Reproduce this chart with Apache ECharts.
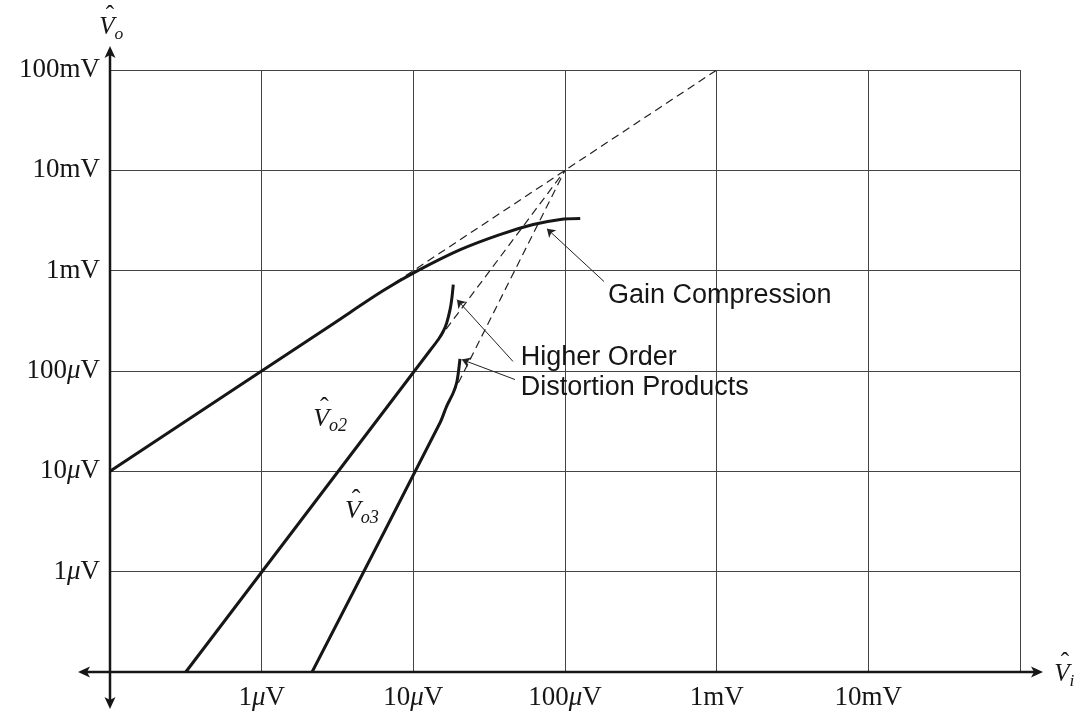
<!DOCTYPE html>
<html>
<head>
<meta charset="utf-8">
<script src="https://cdn.jsdelivr.net/npm/echarts@6/dist/echarts.min.js"></script>
<style>
  html, body { margin: 0; padding: 0; background: #fff; }
  #main { width: 1078px; height: 711px; }
</style>
</head>
<body>
<div id="main"></div>
<script>
// axis range (volts) and tick labels, one per decade 1e-7 .. 1e-1
const axisMin = 1e-7;
const axisMax = 1e-1;
const xTickLabels = ["", "1{mu|μ}V", "10{mu|μ}V", "100{mu|μ}V", "1mV", "10mV", ""];
const yTickLabels = ["", "1{mu|μ}V", "10{mu|μ}V", "100{mu|μ}V", "1mV", "10mV", "100mV"];

// fundamental output [Vi, Vo]
const fundamental = [
  [1e-7, 1e-5], [3e-6, 3e-4], [6.3e-6, 6.3e-4],
  [1.07e-5, 1.0e-3], [2.04e-5, 1.62e-3], [3.72e-5, 2.29e-3],
  [6.17e-5, 2.88e-3], [9.33e-5, 3.24e-3], [1.26e-4, 3.31e-3]
];
// second order product
const vo2 = [
  [3.16e-7, 1e-7], [1.288e-5, 1.6e-4], [1.462e-5, 2.06e-4],
  [1.576e-5, 2.49e-4], [1.66e-5, 3.02e-4], [1.746e-5, 4.09e-4],
  [1.79e-5, 5.14e-4], [1.834e-5, 7.26e-4]
];
// third order product
const vo3 = [
  [2.15e-6, 1e-7], [1.5e-5, 3.05e-5], [1.66e-5, 4.47e-5],
  [1.834e-5, 6.07e-5], [1.93e-5, 7.63e-5], [1.98e-5, 9.6e-5],
  [2.03e-5, 1.32e-4]
];
// dashed extrapolations
const fundExtrap = [[7.57e-6, 7.57e-4], [1e-3, 1e-1]];
const vo2Extrap = [[1.462e-5, 2.06e-4], [1e-4, 1e-2]];
const vo3Extrap = [[1.66e-5, 4.47e-5], [1e-4, 1e-2]];

// annotation arrows [tail, tip] and text anchors
const annoArrows = [
  [[1.81e-4, 7.78e-4], [7.6e-5, 2.62e-3]],
  [[4.54e-5, 1.245e-4], [1.94e-5, 5.14e-4]],
  [[4.68e-5, 8.22e-5], [2.09e-5, 1.30e-4]]
];
const annoTexts = ["Gain Compression", "Higher Order", "Distortion Products"];
const annoPos = [[1.92e-4, 5.6e-4], [5.1e-5, 1.37e-4], [5.1e-5, 6.85e-5]];

// curve name labels [Vi, Vo] and subscripts
const curveLabelSubs = ["o2", "o3"];
const curveLabelPos = [[2.47e-6, 3.3e-5], [4.0e-6, 4.0e-6]];

const serif = '"Liberation Serif", "DejaVu Serif", serif';
const sans = '"Liberation Sans", Arial, sans-serif';
const ink = "#161616";

const chart = echarts.init(document.getElementById("main"));

function tickText(labels) {
  return function (value) {
    const i = Math.round(Math.log10(value)) + 7;
    return labels[i] || "";
  };
}

const labelStyle = {
  color: ink,
  fontFamily: serif,
  fontSize: 27,
  rich: {
    mu: { fontFamily: serif, fontSize: 27, fontStyle: "italic", color: ink }
  }
};

function solid(name, data) {
  return {
    name: name,
    type: "line",
    data: data,
    symbol: "none",
    smooth: 0.3,
    lineStyle: { color: ink, width: 3 },
    z: 4
  };
}

function dashed(data) {
  return {
    type: "line",
    data: data,
    symbol: "none",
    lineStyle: { color: "#222", width: 1.2, type: [8, 5] },
    z: 3
  };
}

chart.setOption({
  animation: false,
  backgroundColor: "#fff",
  grid: { left: 110, right: 58, top: 70, bottom: 38 },
  xAxis: {
    type: "log",
    logBase: 10,
    min: axisMin,
    max: axisMax,
    axisLine: { show: false },
    axisTick: { show: false },
    splitLine: { show: true, lineStyle: { color: "#444", width: 1 } },
    axisLabel: Object.assign({ margin: 12, formatter: tickText(xTickLabels) }, labelStyle)
  },
  yAxis: {
    type: "log",
    logBase: 10,
    min: axisMin,
    max: axisMax,
    axisLine: { show: false },
    axisTick: { show: false },
    splitLine: { show: true, lineStyle: { color: "#444", width: 1 } },
    axisLabel: Object.assign({ margin: 10, formatter: tickText(yTickLabels) }, labelStyle)
  },
  series: [
    solid("Vo", fundamental),
    solid("Vo2", vo2),
    solid("Vo3", vo3),
    dashed(fundExtrap),
    dashed(vo2Extrap),
    dashed(vo3Extrap),
    {
      type: "lines",
      coordinateSystem: "cartesian2d",
      symbol: ["none", "arrow"],
      symbolSize: 8,
      lineStyle: { color: "#222", width: 1, curveness: 0, opacity: 1 },
      data: annoArrows.map((a) => ({ coords: a })),
      z: 5
    }
  ]
});

// axes with arrows, hat labels and annotation texts
const org = chart.convertToPixel({ gridIndex: 0 }, [axisMin, axisMin]);
const ext = chart.convertToPixel({ gridIndex: 0 }, [axisMax, axisMax]);
const axL = org[0] - 32, axR = ext[0] + 23, axT = ext[1] - 24, axB = org[1] + 37;

function arrowHead(tx, ty, dx, dy) {
  // dx,dy unit direction of the arrow
  const L = 12, W = 5.5, N = 3;
  const px = -dy, py = dx;
  return {
    type: "polygon",
    shape: {
      points: [
        [tx, ty],
        [tx - dx * L + px * W, ty - dy * L + py * W],
        [tx - dx * (L - N), ty - dy * (L - N)],
        [tx - dx * L - px * W, ty - dy * L - py * W]
      ]
    },
    style: { fill: ink },
    z: 20
  };
}

function hatV(cx, cy, sub, size) {
  return [
    { type: "text", x: cx, y: cy, z: 20,
      style: { text: "V", fontFamily: serif, fontStyle: "italic", fontSize: size, fill: ink, align: "center", verticalAlign: "middle" } },
    { type: "text", x: cx + 3, y: cy - size * 0.42, z: 20,
      style: { text: "\u02C6", fontFamily: serif, fontSize: size, fill: ink, align: "center", verticalAlign: "middle" } },
    { type: "text", x: cx + size * 0.3, y: cy + size * 0.28, z: 20,
      style: { text: sub, fontFamily: serif, fontStyle: "italic", fontSize: size * 0.7, fill: ink, align: "left", verticalAlign: "middle" } }
  ];
}

const graphics = [
  { type: "line", shape: { x1: axL + 4, y1: org[1], x2: axR - 4, y2: org[1] }, style: { stroke: ink, lineWidth: 2.5 }, z: 19 },
  { type: "line", shape: { x1: org[0], y1: axT + 4, x2: org[0], y2: axB - 4 }, style: { stroke: ink, lineWidth: 2.5 }, z: 19 },
  arrowHead(axR, org[1], 1, 0),
  arrowHead(axL, org[1], -1, 0),
  arrowHead(org[0], axT, 0, -1),
  arrowHead(org[0], axB, 0, 1)
];

hatV(107, 27, "o", 25).forEach((g) => graphics.push(g));
hatV(ext[0] + 42, org[1] + 2, "i", 25).forEach((g) => graphics.push(g));

curveLabelSubs.forEach((s, i) => {
  const p = chart.convertToPixel({ gridIndex: 0 }, curveLabelPos[i]);
  hatV(p[0], p[1], s, 26).forEach((g) => graphics.push(g));
});

annoTexts.forEach((t, i) => {
  const p = chart.convertToPixel({ gridIndex: 0 }, annoPos[i]);
  graphics.push({
    type: "text", x: p[0], y: p[1], z: 20,
    style: { text: t, fontFamily: sans, fontSize: 27, fill: ink, align: "left", verticalAlign: "middle" }
  });
});

chart.setOption({ graphic: graphics });
</script>
</body>
</html>
